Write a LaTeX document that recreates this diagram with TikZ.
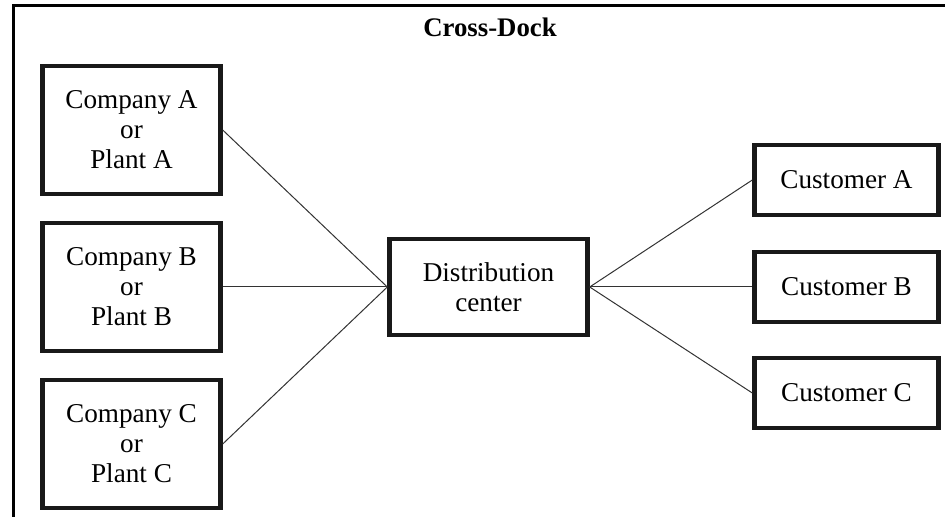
\documentclass[tikz,border=0pt]{standalone}
\usepackage{fontspec}
\setmainfont{Liberation Serif}
\usepackage{tikz}
\usetikzlibrary{shapes.geometric, arrows}
\tikzstyle{origen} = [rectangle, minimum width=89pt, minimum height=64pt, align=center, draw=black!90, line width=2.2pt, font=\fontsize{13.6}{15}\selectfont]
\tikzstyle{centro} = [rectangle, minimum width=99pt, minimum height=48pt, align=center, draw=black!90, line width=2.2pt, font=\fontsize{13.6}{15}\selectfont]
\tikzstyle{cliente} = [rectangle, minimum width=92pt, minimum height=35pt, align=center, draw=black!90, line width=2.2pt, font=\fontsize{13.6}{15}\selectfont]
\tikzstyle{titulo} = [font=\fontsize{13.4}{15}\selectfont\bfseries]
\tikzstyle{linea} = [line width=0.5pt, draw=black!80]

\begin{document}
\begin{tikzpicture}[node distance=78.5pt]
        \useasboundingbox (0,0) rectangle (472.5pt,-258.5pt);
        \draw [line width=1.5pt] (6.75pt,-258.5pt) |- (472.5pt,-2.75pt);
        \node (titulo) [titulo, anchor=base] at (245pt,-18.5pt) {Cross-Dock};

        \node (compA) [origen] at (65.75pt,-65pt) {Company A \\ or \\ Plant A};
        \node (compB) [origen, below of=compA] {Company B \\ or \\ Plant B};
        \node (compC) [origen, below of=compB] {Company C \\ or \\ Plant C};
        \node (dist) [centro, right of=compB, xshift=100pt] {Distribution \\ center};
        \node (custB) [cliente, right of=dist, xshift=100.5pt] {Customer B};
        \node (custA) [cliente, above of=custB, yshift=-25pt] {Customer A};
        \node (custC) [cliente, below of=custB, yshift=25.5pt] {Customer C};

        \draw [linea] (compA.east) -- (dist.west);
        \draw [linea] (compB.east) -- (dist.west);
        \draw [linea] (compC.east) -- (dist.west);
        \draw [linea] (dist.east) -- (custA.west);
        \draw [linea] (dist.east) -- (custB.west);
        \draw [linea] (dist.east) -- (custC.west);
    \end{tikzpicture}
\end{document}
